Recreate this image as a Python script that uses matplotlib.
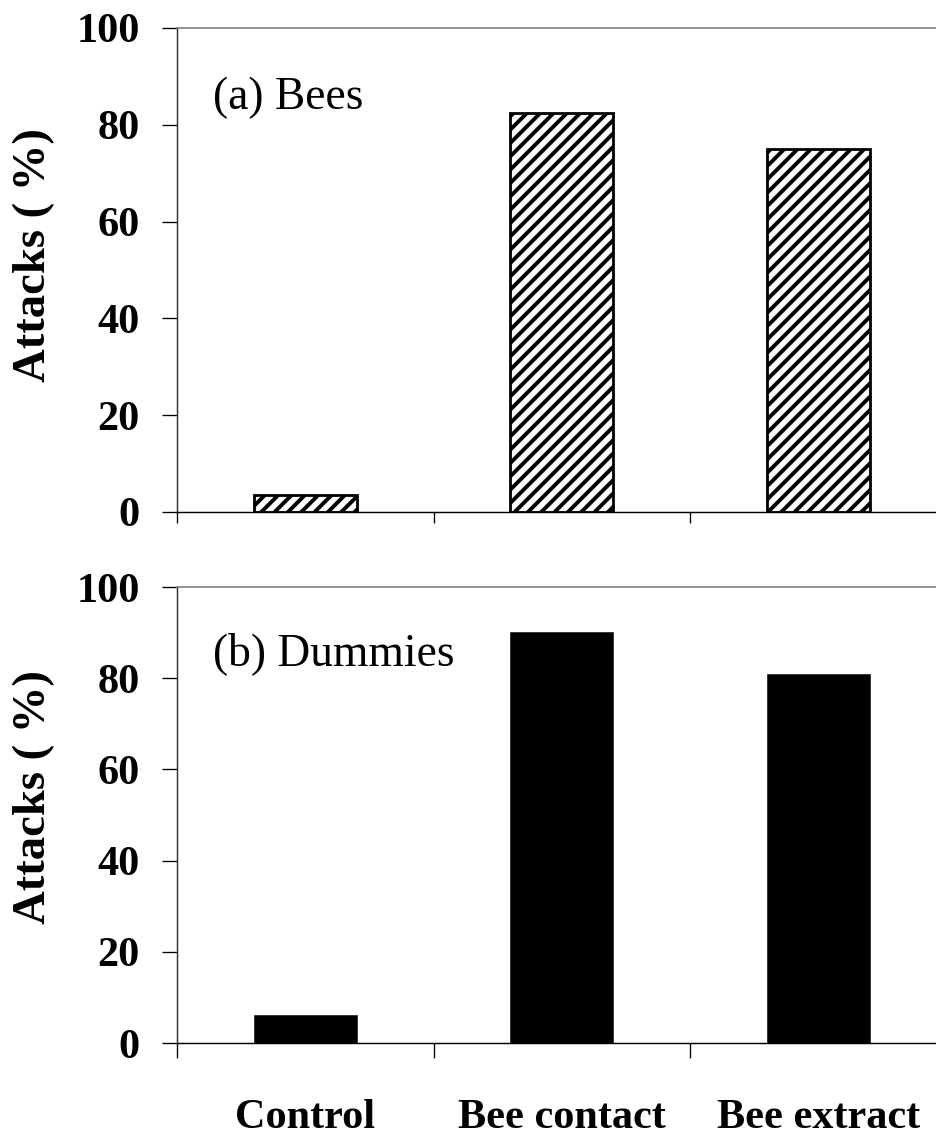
import matplotlib
matplotlib.use("Agg")
import matplotlib.pyplot as plt
import numpy as np

categories = ["Control", "Bee contact", "Bee extract"]
bees = [3.5, 82.4, 75.0]
dummies = [6.1, 90.1, 80.9]
panel_labels = ["(a) Bees", "(b) Dummies"]
yticks = [0, 20, 40, 60, 80, 100]

plt.rcParams['font.family'] = ['Liberation Serif', 'DejaVu Serif']
plt.rcParams['hatch.linewidth'] = 3.5

W, H = 936, 1137
fig = plt.figure(figsize=(11.7, 14.2125), dpi=80)

left = 177 / W
width = 769.5 / W
ax_top = fig.add_axes([left, (H - 512) / H, width, 484 / H])
ax_bot = fig.add_axes([left, (H - 1043) / H, width, 456 / H])

x = np.arange(len(categories))

ax_top.bar(x, bees, width=0.4, color='white', edgecolor='black',
           linewidth=2.5, hatch='//')
ax_bot.bar(x, dummies, width=0.4, color='black', edgecolor='black', linewidth=0.5)

for ax, label, mtick, ly in [(ax_top, panel_labels[0], 10, 0.53),
                             (ax_bot, panel_labels[1], 13.5, 0.54)]:
    ax.set_xlim(-0.5, 2.5)
    ax.set_ylim(0, 100)
    ax.set_yticks(yticks)
    ax.set_yticklabels([str(t) for t in yticks], fontsize=38, fontweight='bold')
    ax.tick_params(axis='y', direction='out', length=13.5, width=1.2, pad=20)
    ax.set_xticks(x)
    ax.set_xticks([-0.5, 0.5, 1.5], minor=True)
    ax.tick_params(axis='x', which='major', length=0, pad=50)
    ax.tick_params(axis='x', which='minor', direction='out', length=mtick, width=1.2)
    ax.spines['right'].set_visible(False)
    ax.spines['top'].set_color('#808080')
    ax.spines['top'].set_linewidth(1.5)
    ax.spines['left'].set_color('#303030')
    ax.spines['left'].set_linewidth(1.3)
    ax.spines['bottom'].set_linewidth(1.3)
    ax.set_ylabel("Attacks ( %)", fontsize=42, fontweight='bold')
    ax.yaxis.set_label_coords(-0.158, ly)
    ax.text(0.047, 0.855, label, transform=ax.transAxes, fontsize=41,
            ha='left', va='center')

ax_top.set_xticklabels([])
ax_bot.set_xticklabels(categories, fontsize=38, fontweight='bold')

fig.savefig("out.png", dpi=80)
